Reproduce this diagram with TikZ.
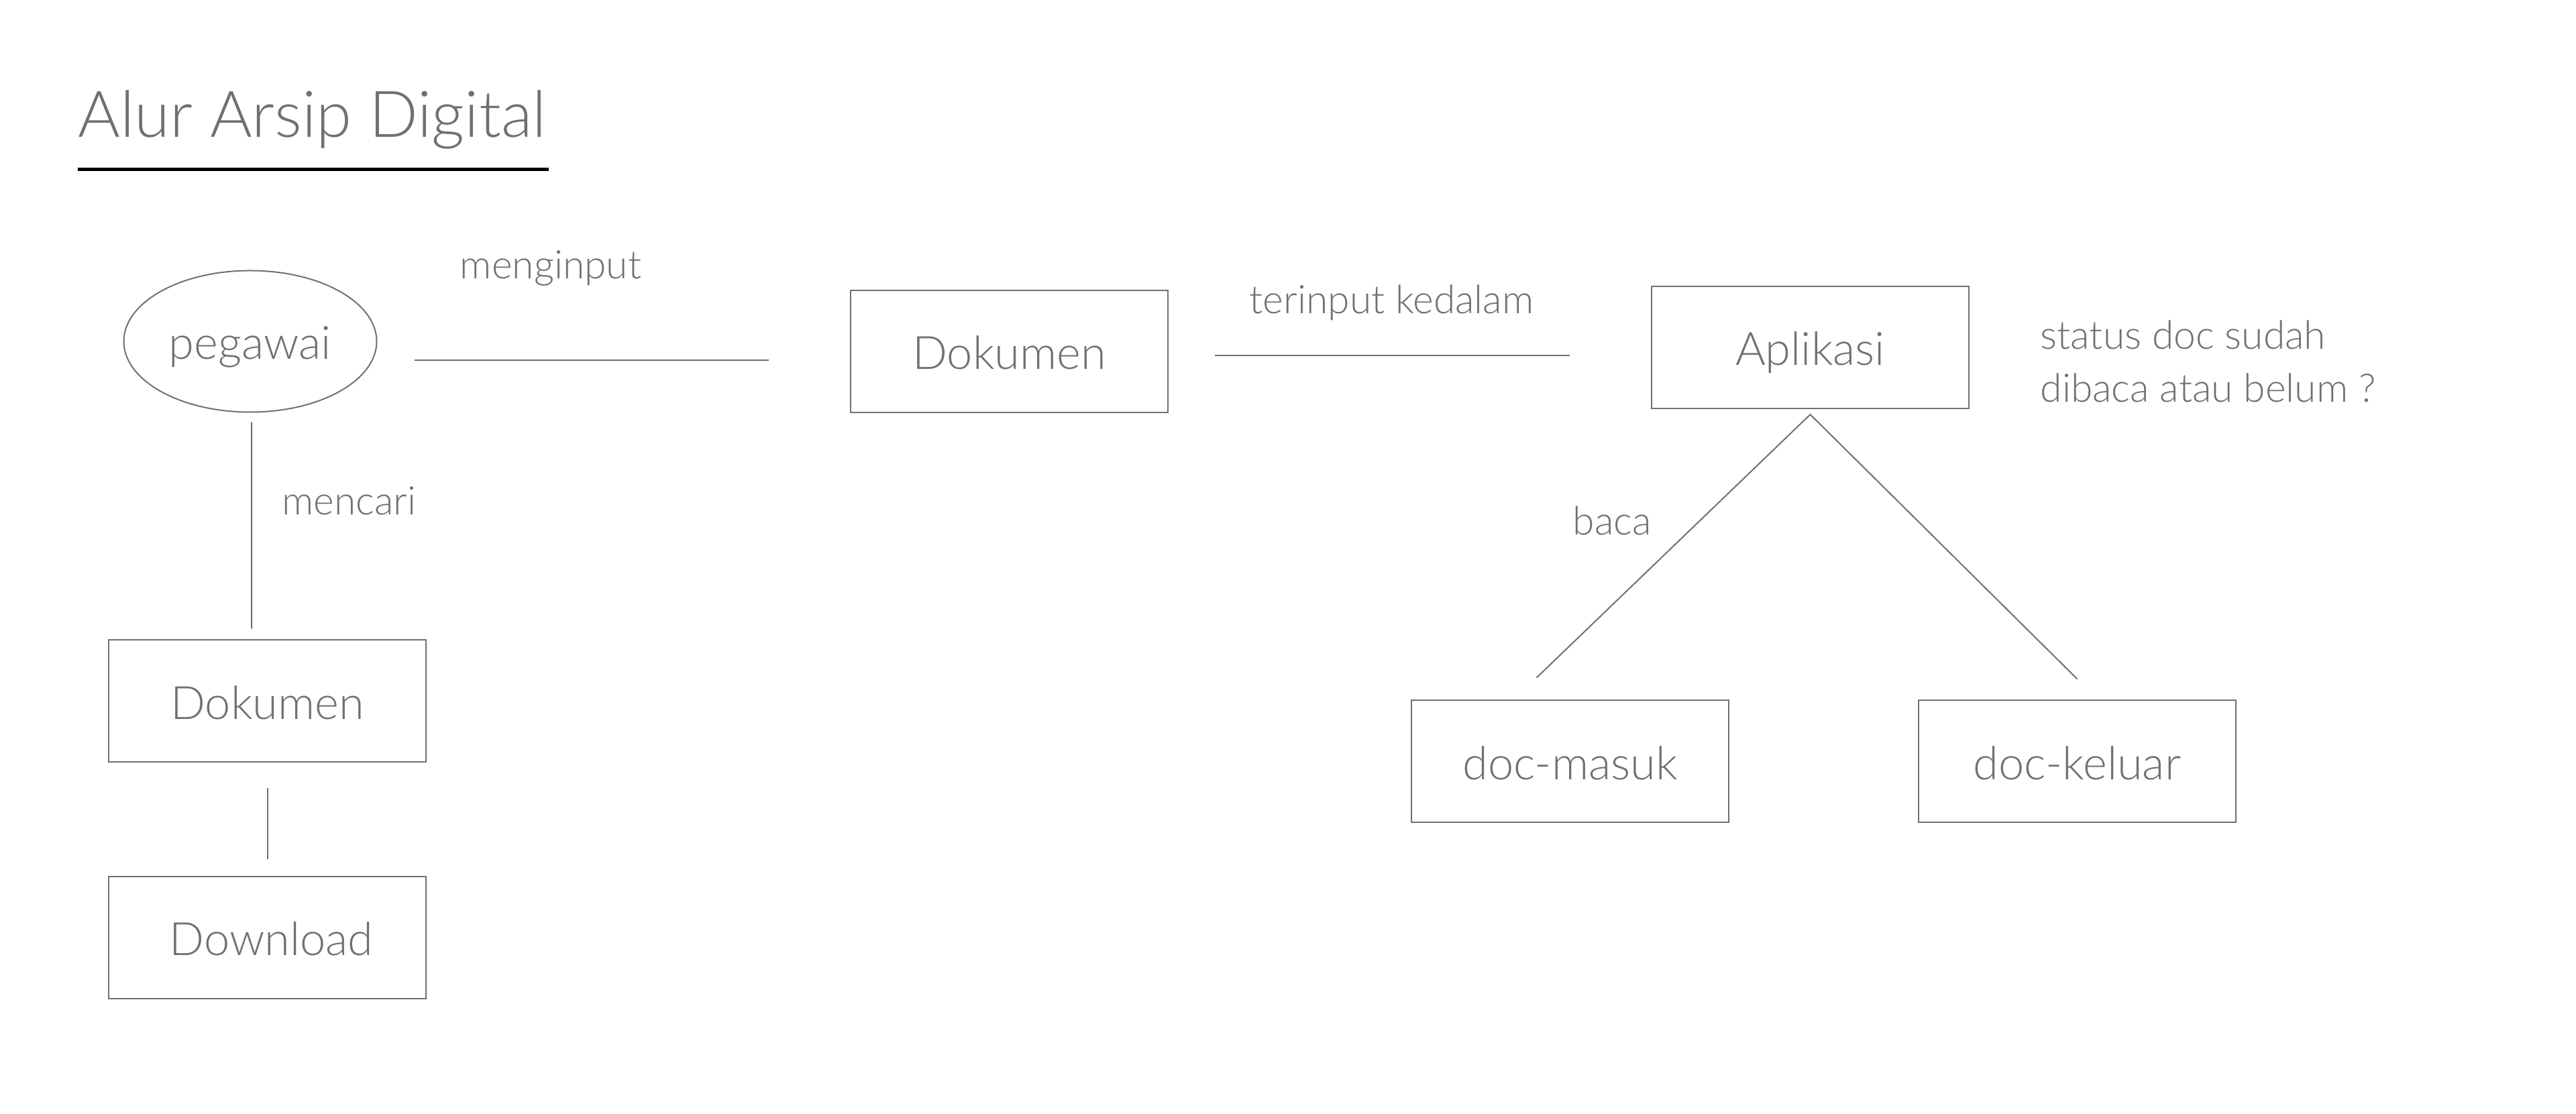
\documentclass[tikz,border=0pt]{standalone}
\usepackage{fontspec}
\setmainfont{Lato Light}
\usepackage{tikz}
\usepackage{xcolor}
\usetikzlibrary{positioning,shapes}
\definecolor{ink}{HTML}{707070}

\begin{document}
\begin{tikzpicture}
\tikzstyle{every node}+=[inner sep=0pt, text=ink]
\tikzstyle{box}=[draw=ink, line width=0.02cm, minimum width=4.73cm, minimum height=1.82cm, text height=0.54cm, text depth=0pt, font=\fontsize{19.5}{23}\selectfont]
\tikzstyle{lbl}=[font=\fontsize{16.7}{20}\selectfont]
\tikzstyle{link}=[draw=ink, line width=0.02cm]
\useasboundingbox (0,0) rectangle (38.4,16.6);
\node [anchor=base west, font=\fontsize{27.3}{33}\selectfont] (title) at (1.16,14.55) {Alur Arsip Digital};
\draw [black, line width=0.05cm] ([yshift=-0.48cm]title.base west) -- ([yshift=-0.48cm,xshift=0.03cm]title.base east);
% left branch
\node [box, ellipse, minimum width=3.77cm, minimum height=2.11cm] (peg) at (3.73,11.51) {pegawai};
\node [box] (dokcari) at (3.985,6.145) {Dokumen};
\node [box] (down) at (3.985,2.62) {\hspace{0.12cm}Download};
% top row
\node [box] (dok) at (15.045,11.36) {Dokumen};
\node [box] (apl) at (26.985,11.42) {Aplikasi};
% bottom right
\node [box] (masuk) at (23.405,5.245) {doc-masuk};
\node [box] (keluar) at (30.965,5.245) {doc-keluar};
% labels
\node [lbl, anchor=base] (lmenginput) at (8.21,12.44) {menginput};
\node [lbl, anchor=base] (lterinput) at (20.745,11.92) {terinput kedalam};
\node [lbl, anchor=base west] (lmencari) at (4.20,8.92) {mencari};
\node [lbl, anchor=base west] (lbaca) at (23.44,8.62) {baca};
\node [lbl, anchor=base west] (lstatus) at (30.41,11.39) {status doc sudah};
\node [lbl, anchor=base west] (lbelum) at (30.41,10.60) {dibaca atau belum ?};
% lines
\draw [link] ([xshift=0.55cm,yshift=-0.28cm]peg.east) -- ([xshift=-1.21cm,yshift=-0.13cm]dok.west);
\draw [link] ([xshift=0.69cm,yshift=-0.06cm]dok.east) -- ([xshift=-1.21cm,yshift=-0.12cm]apl.west);
\draw [link] ([xshift=0.02cm,yshift=-0.14cm]peg.south) -- ([xshift=-0.235cm,yshift=0.16cm]dokcari.north);
\draw [link] ([yshift=-0.38cm]dokcari.south) -- ([yshift=0.25cm]down.north);
\draw [link] ([xshift=-0.5cm,yshift=0.33cm]masuk.north) -- ([yshift=-0.08cm]apl.south) -- ([yshift=0.31cm]keluar.north);
\end{tikzpicture}
\end{document}
